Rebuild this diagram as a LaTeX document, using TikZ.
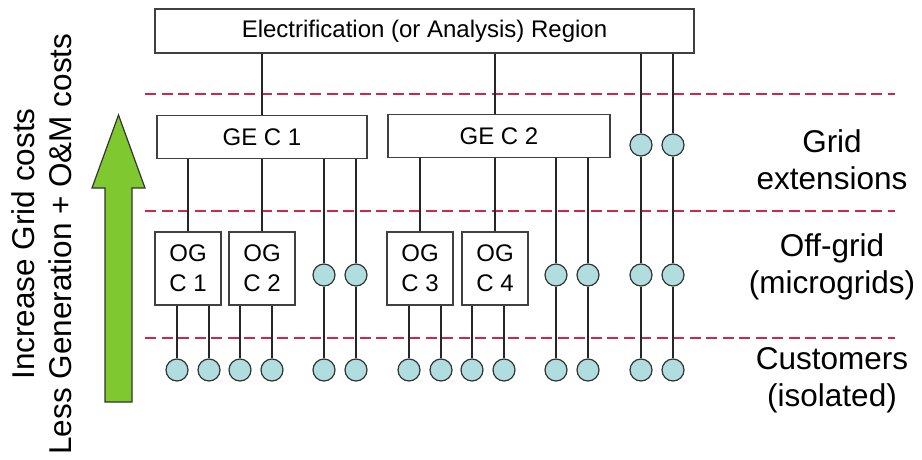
\documentclass[tikz,border=0pt]{standalone}
\usepackage{fontspec}
\setmainfont{Liberation Sans}
\usepackage{xcolor}
\usepackage{tikz}

\definecolor{custcyan}{RGB}{176,222,222}
\definecolor{divred}{RGB}{204,40,72}
\definecolor{arrowgreen}{RGB}{128,200,48}

\begin{document}
\begin{tikzpicture}[
        x=1pt, y=-1pt,
        every node/.style={align=center},
        boxed/.style={
            rectangle, draw=black!75, line width=1.3pt,
            fill=white, inner sep=0pt,
            font=\fontsize{24}{30}\selectfont
        },
        regionbox/.style={boxed, minimum width=539pt, minimum height=44pt},
        gebox/.style={boxed, minimum height=43pt},
        ogbox/.style={boxed, minimum width=66pt, minimum height=73pt},
        cust/.style={
            circle, draw=black!80, line width=1.2pt,
            fill=custcyan, minimum size=22pt, inner sep=0pt
        },
        tier/.style={font=\fontsize{31.5}{37}\selectfont},
        divider/.style={divred, line width=1.8pt, dash pattern=on 11pt off 5.5pt},
        wire/.style={black!85, line width=1.5pt},
        growth/.style={draw=black!80, line width=1.2pt, fill=arrowgreen}
    ]
    \useasboundingbox (0,0) rectangle (922,459);
    \draw[divider] (145,94) -- (895,94);
    \draw[divider] (145,211) -- (895,211);
    \draw[divider] (145,338) -- (895,338);
    \draw[growth] (105,402) -- (105,188) -- (92,188) -- (118.5,115)
        -- (145,188) -- (132,188) -- (132,402) -- cycle;
    \node[tier, rotate=90] (costs) at (41.5,244)
        {Increase Grid costs\\Less Generation + O\&M costs};
    \node[regionbox] (region) at (424.5,31) {Electrification (or Analysis) Region};
    \node[gebox, minimum width=210pt] (gec1) at (262,137) {GE C 1};
    \node[gebox, minimum width=222pt] (gec2) at (499,136) {GE C 2};
    \node[ogbox] (ogc1) at (188,268.5) {OG\\C 1};
    \node[ogbox] (ogc2) at (262,268.5) {OG\\C 2};
    \node[ogbox] (ogc3) at (420,268.5) {OG\\C 3};
    \node[ogbox] (ogc4) at (495,268.5) {OG\\C 4};
    \node[cust] (g1) at (641,145) {};
    \node[cust] (g2) at (673,145) {};
    \node[cust] (o1) at (324,275) {};
    \node[cust] (o2) at (356,275) {};
    \node[cust] (o3) at (556,275) {};
    \node[cust] (o4) at (588,275) {};
    \node[cust] (o5) at (641,275) {};
    \node[cust] (o6) at (673,275) {};
    \node[cust] (c1) at (177,370) {};
    \node[cust] (c2) at (209,370) {};
    \node[cust] (c3) at (240,370) {};
    \node[cust] (c4) at (272,370) {};
    \node[cust] (c5) at (324,370) {};
    \node[cust] (c6) at (356,370) {};
    \node[cust] (c7) at (409,370) {};
    \node[cust] (c8) at (441,370) {};
    \node[cust] (c9) at (472,370) {};
    \node[cust] (c10) at (504,370) {};
    \node[cust] (c11) at (556,370) {};
    \node[cust] (c12) at (588,370) {};
    \node[cust] (c13) at (641,370) {};
    \node[cust] (c14) at (673,370) {};
    \node[tier] (gridext) at (832,160) {Grid\\extensions};
    \node[tier] (offgrid) at (832,267) {Off-grid\\(microgrids)};
    \node[tier] (customers) at (832,380) {Customers\\(isolated)};
    \draw[wire] (region.south -| gec1) -- (gec1.north);
    \draw[wire] (region.south -| ogc4) -- (gec2.north -| ogc4);
    \draw[wire] (region.south -| g1) -- (g1);
    \draw[wire] (region.south -| g2) -- (g2);
    \draw[wire] (gec1.south -| ogc1) -- (ogc1);
    \draw[wire] (gec1.south -| ogc2) -- (ogc2);
    \draw[wire] (gec1.south -| o1) -- (o1);
    \draw[wire] (gec1.south -| o2) -- (o2);
    \draw[wire] (gec2.south -| ogc3) -- (ogc3);
    \draw[wire] (gec2.south -| ogc4) -- (ogc4);
    \draw[wire] (gec2.south -| o3) -- (o3);
    \draw[wire] (gec2.south -| o4) -- (o4);
    \draw[wire] (g1) -- (o5);
    \draw[wire] (g2) -- (o6);
    \draw[wire] (ogc1.south -| c1) -- (c1);
    \draw[wire] (ogc1.south -| c2) -- (c2);
    \draw[wire] (ogc2.south -| c3) -- (c3);
    \draw[wire] (ogc2.south -| c4) -- (c4);
    \draw[wire] (o1) -- (c5);
    \draw[wire] (o2) -- (c6);
    \draw[wire] (ogc3.south -| c7) -- (c7);
    \draw[wire] (ogc3.south -| c8) -- (c8);
    \draw[wire] (ogc4.south -| c9) -- (c9);
    \draw[wire] (ogc4.south -| c10) -- (c10);
    \draw[wire] (o3) -- (c11);
    \draw[wire] (o4) -- (c12);
    \draw[wire] (o5) -- (c13);
    \draw[wire] (o6) -- (c14);
\end{tikzpicture}
\end{document}
